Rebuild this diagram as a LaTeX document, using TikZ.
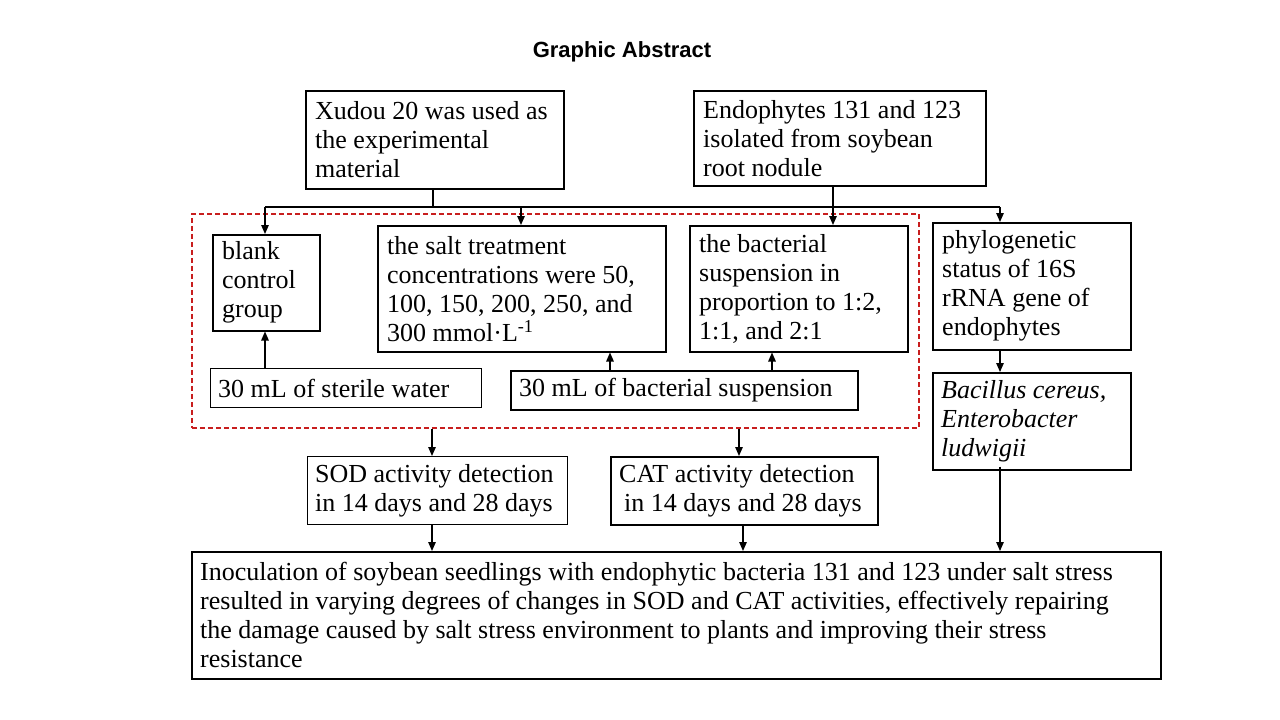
\documentclass[tikz,border=0pt]{standalone}
\usepackage{fontspec}
\setmainfont{Liberation Serif}
\newfontfamily\titlefont{Liberation Sans}
\usetikzlibrary{arrows.meta}
\tikzset{
  box/.style={draw, line width=1.5pt, anchor=north west, inner sep=0pt},
  thinbox/.style={draw, line width=1.1pt, anchor=north west, inner sep=0pt},
  txt/.style={font=\fontsize{26}{29}\selectfont, align=left, inner sep=0pt, anchor=west},
  conn/.style={line width=1.5pt},
  arr/.style={line width=1.3pt, -{Triangle[length=9pt,width=7.5pt]}},
  redbox/.style={draw={rgb,255:red,200;green,30;blue,30}, line width=1.5pt, dash pattern=on 5pt off 3pt, anchor=north west, inner sep=0pt}
}
\begin{document}
\begin{tikzpicture}[x=1pt,y=-1pt]
\useasboundingbox (0,0) rectangle (1280,720);
\node[font=\titlefont\bfseries\fontsize{22}{26}\selectfont] (title) at (622,52) {Graphic Abstract};

% red dashed region
\node[redbox, minimum width=727pt, minimum height=214pt] (red) at (191,213) {};

% boxes
\node[box, minimum width=258pt, minimum height=98pt] (A) at (305,90) {};
\node[txt] (At) at ([xshift=10pt]A.west) {Xudou 20 was used as\\the experimental\\material};

\node[box, minimum width=292pt, minimum height=95pt] (B) at (693,90) {};
\node[txt] (Bt) at ([xshift=10pt]B.west) {Endophytes 131 and 123\\isolated from soybean\\root nodule};

\node[box, minimum width=107pt, minimum height=96pt] (blank) at (212,234) {};
\node[txt] (blankt) at ([xshift=10pt]blank.west) {blank\\control\\group};

\node[box, minimum width=288pt, minimum height=126pt] (salt) at (377,225) {};
\node[txt] (saltt) at ([xshift=10pt]salt.west) {the salt treatment\\concentrations were 50,\\100, 150, 200, 250, and\\300 mmol·L\textsuperscript{-1}};

\node[box, minimum width=218pt, minimum height=126pt] (bact) at (689,225) {};
\node[txt] (bactt) at ([xshift=10pt]bact.west) {the bacterial\\suspension in\\proportion to 1:2,\\1:1, and 2:1};

\node[box, minimum width=198pt, minimum height=127pt] (phylo) at (932,222) {};
\node[txt] (phylot) at ([xshift=10pt]phylo.west) {phylogenetic\\status of 16S\\rRNA gene of\\endophytes};

\node[thinbox, minimum width=271pt, minimum height=39pt] (water) at (210,368) {};
\node[txt] (watert) at ([xshift=8pt]water.west) {30 mL of sterile water};

\node[box, minimum width=347pt, minimum height=39pt] (susp) at (510,370) {};
\node[txt] (suspt) at ([xshift=9pt]susp.west) {30 mL of bacterial suspension};

\node[box, minimum width=198pt, minimum height=97pt] (bac) at (932,372) {};
\node[txt] (bact2) at ([xshift=9pt]bac.west) {\itshape Bacillus cereus,\\\itshape Enterobacter\\\itshape ludwigii};

\node[thinbox, minimum width=260pt, minimum height=68pt] (sod) at (307,456) {};
\node[txt] (sodt) at ([xshift=8pt]sod.west) {SOD activity detection\\in 14 days and 28 days};

\node[box, minimum width=267pt, minimum height=68pt] (cat) at (610,456) {};
\node[txt] (catt) at ([xshift=9pt]cat.west) {CAT activity detection\\\hspace*{5pt}in 14 days and 28 days};

\node[box, minimum width=969pt, minimum height=127pt] (fin) at (191,551) {};
\node[txt] (fint) at ([xshift=9pt]fin.west) {Inoculation of soybean seedlings with endophytic bacteria 131 and 123 under salt stress\\resulted in varying degrees of changes in SOD and CAT activities, effectively repairing\\the damage caused by salt stress environment to plants and improving their stress\\resistance};

% connector coordinates
\coordinate (ja) at (433,207);
\coordinate (jl) at (265,207);
\coordinate (jr) at (1000,207);
\coordinate (xs) at (521,0);
\coordinate (xb) at (833,0);
\coordinate (xp) at (1000,0);
\coordinate (xw) at (265,0);
\coordinate (xs2) at (610,0);
\coordinate (xb2) at (772,0);
\coordinate (xsod) at (432,0);
\coordinate (xcat) at (739,0);
\coordinate (xcat2) at (743,0);

\draw[conn] (A.south -| ja) -- (ja);
\draw[conn] (jl) -- (jr);
\draw[arr] (jl) -- (blank.north -| jl);
\draw[arr] (ja -| xs) -- (salt.north -| xs);
\draw[arr] (jr) -- (phylo.north -| jr);
\draw[arr] (B.south -| xb) -- (bact.north -| xb);

\draw[arr] (water.north -| xw) -- (blank.south -| xw);
\draw[arr] (susp.north -| xs2) -- (salt.south -| xs2);
\draw[arr] (susp.north -| xb2) -- (bact.south -| xb2);
\draw[arr] (phylo.south -| xp) -- (bac.north -| xp);

\draw[arr] (red.south -| xsod) -- (sod.north -| xsod);
\draw[arr] (red.south -| xcat) -- (cat.north -| xcat);
\draw[arr] (sod.south -| xsod) -- (fin.north -| xsod);
\draw[arr] (cat.south -| xcat2) -- (fin.north -| xcat2);
\draw[arr] ([yshift=4pt]bac.south -| xp) -- (fin.north -| xp);
\end{tikzpicture}
\end{document}
